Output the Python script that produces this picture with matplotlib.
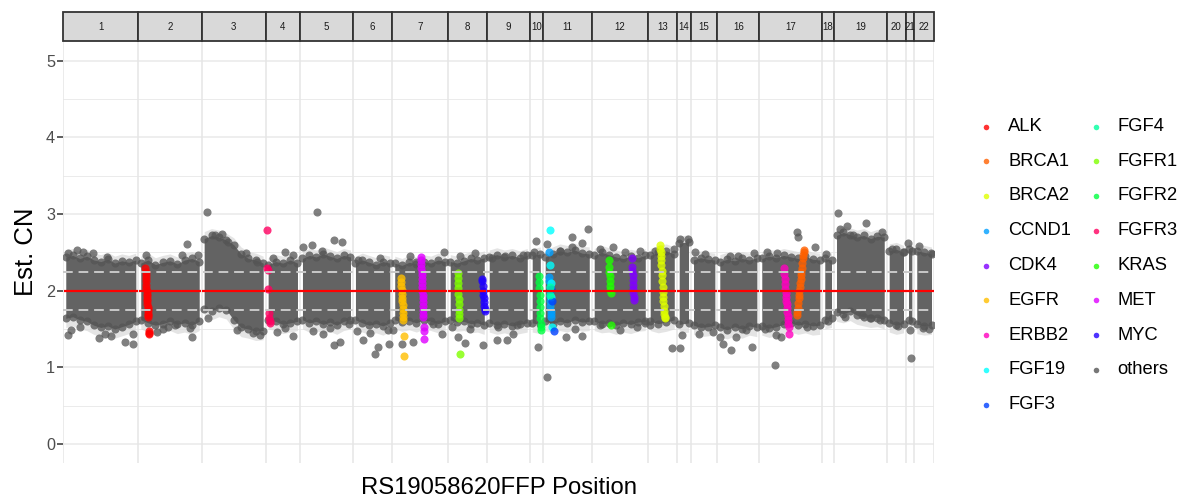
import numpy as np
import matplotlib
matplotlib.use("Agg")
import matplotlib.pyplot as plt
from matplotlib.patches import Rectangle

plt.rcParams['font.family'] = ['Liberation Sans', 'DejaVu Sans']

# ---------------- data ----------------
chromosomes = [str(i) for i in range(1, 23)]
# number of probes per chromosome (panel widths are proportional)
chrom_sizes = [750, 634, 640, 343, 530, 393, 555, 390, 430, 130, 490,
               560, 290, 143, 263, 420, 630, 117, 527, 193, 83, 197]

# dense core of "others" (upper / lower envelope along each chromosome)
core_hi = [
    [2.44, 2.46, 2.42, 2.45, 2.40, 2.38, 2.41, 2.36, 2.39, 2.37, 2.40],
    [2.36, 2.40, 2.34, 2.37, 2.39, 2.35, 2.40, 2.42, 2.38],
    [2.68, 2.72, 2.70, 2.66, 2.60, 2.48, 2.42, 2.40, 2.36],
    [2.34, 2.38, 2.36, 2.40, 2.36],
    [2.42, 2.46, 2.44, 2.48, 2.45, 2.42, 2.46, 2.44],
    [2.36, 2.40, 2.37, 2.34, 2.38, 2.36],
    [2.36, 2.33, 2.37, 2.35, 2.38, 2.36, 2.40, 2.38],
    [2.38, 2.36, 2.39, 2.42, 2.40, 2.43],
    [2.44, 2.47, 2.44, 2.46, 2.43, 2.46],
    [2.46, 2.48],
    [2.44, 2.48, 2.52, 2.50, 2.53, 2.49, 2.48],
    [2.46, 2.50, 2.47, 2.44, 2.42, 2.45, 2.43, 2.46],
    [2.46, 2.50, 2.52, 2.48],
    [2.62, 2.64],
    [2.40, 2.43, 2.41, 2.40],
    [2.38, 2.41, 2.39, 2.42, 2.40, 2.43],
    [2.42, 2.45, 2.43, 2.46, 2.44, 2.42, 2.45, 2.41, 2.40],
    [2.42, 2.40],
    [2.72, 2.76, 2.73, 2.70, 2.72, 2.68, 2.71, 2.70],
    [2.52, 2.54, 2.50],
    [2.55, 2.52],
    [2.52, 2.50, 2.48],
]
core_lo = [
    [1.64, 1.66, 1.62, 1.60, 1.55, 1.52, 1.54, 1.50, 1.53, 1.56, 1.60],
    [1.62, 1.58, 1.55, 1.57, 1.60, 1.56, 1.58, 1.55, 1.60],
    [1.76, 1.74, 1.78, 1.75, 1.62, 1.52, 1.50, 1.47, 1.48],
    [1.62, 1.60, 1.56, 1.58, 1.60],
    [1.62, 1.58, 1.60, 1.56, 1.59, 1.55, 1.60, 1.62],
    [1.62, 1.58, 1.55, 1.57, 1.54, 1.58],
    [1.62, 1.59, 1.61, 1.58, 1.62, 1.60, 1.57, 1.60],
    [1.62, 1.59, 1.60, 1.57, 1.58, 1.55],
    [1.58, 1.55, 1.57, 1.54, 1.56, 1.58],
    [1.58, 1.56],
    [1.60, 1.57, 1.60, 1.58, 1.62, 1.59, 1.60],
    [1.60, 1.57, 1.58, 1.55, 1.58, 1.56, 1.59, 1.60],
    [1.60, 1.57, 1.59, 1.62],
    [1.56, 1.58],
    [1.55, 1.52, 1.53, 1.55],
    [1.52, 1.49, 1.53, 1.50, 1.54, 1.52],
    [1.54, 1.51, 1.53, 1.56, 1.58, 1.55, 1.57, 1.54, 1.55],
    [1.62, 1.64],
    [1.72, 1.70, 1.73, 1.68, 1.66, 1.64, 1.65, 1.62],
    [1.58, 1.55, 1.57],
    [1.62, 1.60],
    [1.56, 1.54, 1.55],
]

# scattered "others" probes outside the dense core (global probe index, est. CN)
outlier_idx = [
    50, 77, 360, 420, 477, 617, 694, 700, 50, 140, 200, 300, 434, 167,
    824, 1234, 1350, 1184, 934, 1000, 1050, 1267, 1290, 1117,
    1434, 1644, 1827, 1934, 1450, 1734, 1967, 1900, 1517, 1587,
    2217, 2300, 2134, 2217, 2294, 2097,
    2400, 2490, 2710, 2784, 2587, 2534, 2500, 2600, 2667, 2710, 2767, 2860,
    2950, 3167, 2934, 3000, 3117, 3150, 3250, 3255, 3067,
    3527, 3807, 3300, 3384, 3500, 3700, 3784, 3467,
    4117, 3967, 3944, 4017, 4194, 4067, 3887,
    4594, 4417, 4334, 4434, 4500, 4534, 4350, 4287,
    4724, 4750, 4707,
    4834, 5084, 5090, 5184, 5250, 4967, 4834, 5027, 5184, 5117,
    5367, 5500, 5617, 5767, 5367, 5567, 5734, 5817,
    6084, 5917, 5867, 6107,
    6167, 6250, 6184, 6167,
    6360, 6500, 6417, 6317,
    6667, 6750, 6910, 6600, 6677, 6727, 6884, 6827, 6567,
    7034, 7134, 7340, 7345, 7517, 7117, 7127, 7174, 7434, 7017,
    7650, 7627,
    7747, 7767, 7834, 7894, 8027, 8184, 7984, 8167, 8067, 7817,
    8284, 8350, 8397,
    8450, 8474, 8467,
    8560, 8674, 8600, 8660,
]
outlier_cn = [
    1.42, 1.49, 1.38, 1.44, 1.41, 1.33, 1.31, 1.43, 2.49, 2.53, 2.51, 2.49, 2.44, 1.53,
    2.47, 2.61, 2.46, 2.47, 1.46, 1.50, 1.53, 1.51, 1.39, 1.55,
    3.02, 2.63, 2.49, 2.38, 1.64, 1.49, 1.42, 1.45, 2.72, 2.74,
    2.51, 2.47, 1.46, 1.51, 1.41, 2.42,
    2.57, 2.60, 2.66, 2.64, 2.52, 3.02, 1.47, 1.44, 1.51, 1.29, 1.33, 1.56,
    2.40, 2.42, 1.47, 1.36, 1.18, 1.26, 1.49, 1.31, 1.45,
    2.38, 2.50, 1.49, 1.30, 1.33, 1.56, 1.44, 2.45,
    2.49, 2.45, 1.40, 1.32, 1.29, 1.50, 1.52,
    2.47, 2.45, 1.36, 1.36, 1.44, 1.55, 1.52, 2.42,
    2.65, 1.27, 2.50,
    2.61, 2.70, 2.57, 2.62, 2.81, 2.52, 0.87, 1.40, 1.41, 1.50,
    2.55, 2.57, 2.50, 2.52, 1.55, 1.49, 1.52, 1.58,
    1.25, 2.52, 1.55, 2.55,
    2.68, 2.67, 1.42, 1.25,
    1.44, 1.46, 2.48, 2.50,
    2.45, 2.45, 2.49, 1.30, 1.22, 1.39, 1.26, 1.49, 1.40,
    2.51, 2.49, 2.77, 2.70, 2.57, 1.03, 1.42, 1.39, 1.53, 1.50,
    1.60, 2.48,
    3.01, 2.81, 2.84, 2.73, 2.88, 2.77, 1.68, 1.62, 1.65, 1.66,
    2.55, 1.54, 2.50,
    2.62, 1.12, 1.49,
    2.58, 2.49, 1.51, 1.50,
]

# genes of interest
genes = ['ALK', 'BRCA1', 'BRCA2', 'CCND1', 'CDK4', 'EGFR', 'ERBB2', 'FGF19', 'FGF3',
         'FGF4', 'FGFR1', 'FGFR2', 'FGFR3', 'KRAS', 'MET', 'MYC']
gene_colors = ['#FF0000', '#FF6000', '#DFFF00', '#009FFF', '#8000FF', '#FFBF00',
               '#FF00BF', '#00FFFF', '#0040FF', '#00FF9F', '#80FF00', '#00FF40',
               '#FF0060', '#20FF00', '#DF00FF', '#2000FF']
others_color = '#555555'
# probe index range covered by each gene
gene_start = [822, 7337, 5967, 4857, 5687, 3377, 7207, 4867, 4877, 4867,
              3944, 4757, 2037, 5457, 3577, 4187]
gene_end = [857, 7407, 6017, 4877, 5707, 3407, 7257, 4887, 4907, 4872,
            3964, 4777, 2067, 5477, 3607, 4217]
gene_cn = [
    [2.30, 2.25, 2.21, 2.16, 2.12, 2.08, 2.04, 2.00, 1.96, 1.93, 1.89, 1.86, 1.83,
     1.79, 1.76, 1.73, 1.70, 1.68, 1.66, 1.48, 1.45, 1.43],
    [1.68, 1.72, 1.78, 1.84, 1.90, 1.95, 2.00, 2.05, 2.10, 2.15, 2.20, 2.25, 2.30,
     2.36, 2.42, 2.47, 2.50, 2.53],
    [2.60, 2.55, 2.50, 2.45, 2.40, 2.33, 2.26, 2.20, 2.12, 2.05, 1.98, 1.92, 1.86,
     1.80, 1.74, 1.69, 1.66, 1.64],
    [2.51, 2.18, 2.12, 2.05, 1.99, 1.93, 1.86, 1.80, 1.74, 1.69, 1.66],
    [2.42, 2.31, 2.26, 2.20, 2.14, 2.08, 2.02, 1.97, 1.92, 1.88],
    [2.16, 2.11, 2.06, 2.01, 1.96, 1.91, 1.86, 1.81, 1.76, 1.71, 1.66, 1.62,
     1.41, 1.15],
    [2.29, 2.22, 2.15, 2.09, 2.02, 1.97, 1.92, 1.87, 1.82, 1.77, 1.72, 1.67, 1.62,
     1.57, 1.53, 1.43],
    [2.79, 2.33, 2.10, 1.92, 1.53],
    [2.02, 1.86, 1.47],
    [2.05, 1.95],
    [2.23, 2.17, 2.10, 2.03, 1.96, 1.89, 1.82, 1.75, 1.69, 1.64, 1.18],
    [2.19, 2.11, 2.03, 1.95, 1.87, 1.79, 1.71, 1.64, 1.57, 1.52, 1.49],
    [2.79, 2.29, 2.27, 2.02, 1.71, 1.65, 1.61, 1.58],
    [2.40, 2.31, 2.25, 2.19, 2.12, 2.06, 2.01, 1.97, 1.55],
    [2.44, 2.40, 2.35, 2.30, 2.25, 2.20, 2.15, 2.10, 2.05, 2.00, 1.95, 1.90, 1.85,
     1.80, 1.75, 1.70, 1.66, 1.53, 1.47, 1.37],
    [2.15, 2.12, 2.06, 2.00, 1.95, 1.90, 1.85, 1.80, 1.76, 1.73],
]

neutral_cn = 2.0
band_cn = [1.75, 2.25]
x_title = 'RS19058620FFP Position'
y_title = 'Est. CN'

# ---------------- figure ----------------
W, H = 1185, 500
fig = plt.figure(figsize=(W / 100, H / 100), dpi=100)
px0, px1 = 63.3, 934.0
ptop, pbot = 41.0, 462.7
ax = fig.add_axes([px0 / W, 1 - pbot / H, (px1 - px0) / W, (pbot - ptop) / H])
sax = fig.add_axes([px0 / W, 1 - ptop / H, (px1 - px0) / W, (ptop - 12.3) / H])

starts = np.concatenate([[0], np.cumsum(chrom_sizes)[:-1]])
ends = np.cumsum(chrom_sizes)
total = ends[-1]

ax.set_xlim(0, total)
ax.set_ylim(-0.244, 5.257)
for s in ax.spines.values():
    s.set_visible(False)

# grid
for v in range(0, 6):
    ax.axhline(v, color='#EBEBEB', lw=1.2, zorder=0)
for v in np.arange(0.5, 5.0, 1.0):
    ax.axhline(v, color='#EBEBEB', lw=0.7, zorder=0)
for b in list(starts) + [total]:
    ax.axvline(b, color='#E6E6E6', lw=1.1, zorder=0)

pt_size = 34
# dense cores
for i in range(len(chromosomes)):
    pad = 25
    xs = np.linspace(starts[i] + pad, ends[i] - pad, len(core_hi[i]))
    hi = np.array(core_hi[i])
    lo = np.array(core_lo[i])
    ax.fill_between(xs, lo - 0.12, hi + 0.09, color='#D9D9D9', alpha=0.7, lw=0, zorder=1)
    ax.fill_between(xs, lo, hi, color='#636363', lw=0, zorder=2)
    ax.scatter(xs, hi, s=pt_size, color=others_color, alpha=0.78, lw=0, zorder=2)
    ax.scatter(xs, lo, s=pt_size, color=others_color, alpha=0.78, lw=0, zorder=2)

ax.scatter(outlier_idx, outlier_cn, s=pt_size, color=others_color, alpha=0.75,
           lw=0, zorder=3)

for g in range(len(genes)):
    ys = gene_cn[g]
    xs = np.linspace(gene_start[g], gene_end[g], len(ys))
    ax.scatter(xs, ys, s=pt_size, color=gene_colors[g], alpha=0.8, lw=0, zorder=4)

for v in band_cn:
    ax.axhline(v, color='#C8C8C8', lw=1.4, ls=(0, (5, 3)), zorder=5)
for i in range(len(chromosomes)):
    ax.hlines(neutral_cn, starts[i] + 3, ends[i] - 3, color='#FF0000', lw=1.6, zorder=6)

ax.set_xticks([])
ax.set_yticks(range(0, 6))
ax.tick_params(axis='y', length=4, width=1.1, color='#333333', labelsize=11.7,
               labelcolor='#4D4D4D', pad=2)
ax.set_ylabel(y_title, fontsize=18.5, color='black', labelpad=6)
ax.set_xlabel(x_title, fontsize=17.2, color='black', labelpad=10.5)

# strips
sax.set_xlim(0, total)
sax.set_ylim(0, 1)
sax.axis('off')
for i, c in enumerate(chromosomes):
    sax.add_patch(Rectangle((starts[i], 0), chrom_sizes[i], 1, facecolor='#D9D9D9',
                            edgecolor='#333333', lw=1.3, clip_on=False))
    sax.text((starts[i] + ends[i]) / 2, 0.5, c, ha='center', va='center',
             fontsize=7, color='#1A1A1A')

# legend
lax = fig.add_axes([0, 0, 1, 1], facecolor='none')
lax.set_xlim(0, W)
lax.set_ylim(H, 0)
lax.axis('off')
labels = genes + ['others']
colors = gene_colors + [others_color]
row0, dy = 126.5, 34.75
for k, (lab, col) in enumerate(zip(labels, colors)):
    c, r = (0, k) if k < 9 else (1, k - 9)
    dx = 986 + c * 109.5
    yy = row0 + r * dy
    lax.scatter([dx], [yy], s=16, color=col, alpha=0.8, lw=0)
    lax.text(dx + 22, yy, lab, fontsize=13.2, va='center', ha='left', color='black')

fig.savefig('out.png', dpi=100)
